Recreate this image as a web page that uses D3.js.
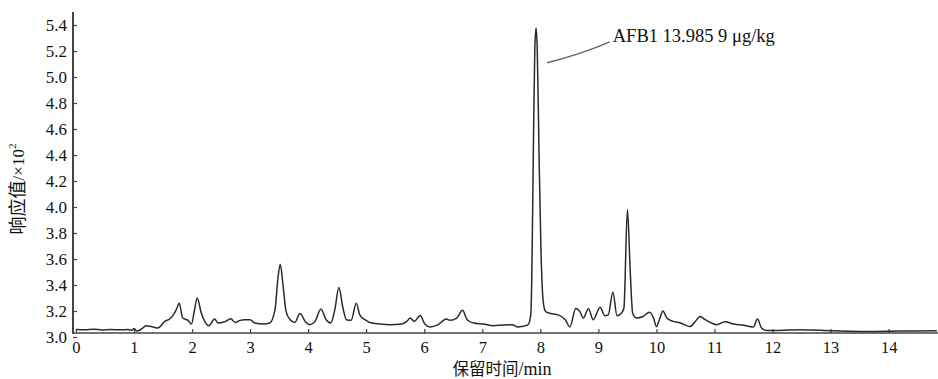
<!DOCTYPE html>
<html>
<head>
<meta charset="utf-8">
<script src="https://cdn.jsdelivr.net/npm/d3@7"></script>
<style>
  body { margin: 0; background: #fff; }
  .tick text { font-family: "Liberation Serif", "Times New Roman", serif; fill: #111; }
</style>
</head>
<body>
<div id="chart"></div>
<script>
var svgWidth = 938;
var svgHeight = 379;

// retention time (min) and response (x10^2)
var times = [
    0.00, 0.15, 0.30, 0.45, 0.60, 0.75, 0.90, 0.97, 1.00, 1.05, 1.12, 1.21, 1.33, 1.41, 1.53, 1.62, 1.67, 1.73, 1.78, 1.84,
    1.93, 1.99, 2.04, 2.09, 2.16, 2.22, 2.29, 2.39, 2.45, 2.55, 2.67, 2.74, 2.83, 2.91, 3.00, 3.08, 3.23, 3.34, 3.43, 3.48,
    3.52, 3.57, 3.62, 3.69, 3.77, 3.86, 3.95, 4.03, 4.12, 4.22, 4.31, 4.39, 4.46, 4.53, 4.60, 4.66, 4.74, 4.83, 4.89, 4.98,
    5.06, 5.24, 5.41, 5.61, 5.70, 5.76, 5.83, 5.93, 6.01, 6.10, 6.24, 6.38, 6.44, 6.56, 6.66, 6.74, 6.85, 7.02, 7.19, 7.36,
    7.51, 7.62, 7.68, 7.79, 7.835, 7.852, 7.88, 7.905, 7.926, 7.947, 7.976, 8.01, 8.05, 8.09, 8.14, 8.31, 8.43, 8.51, 8.61, 8.68,
    8.74, 8.83, 8.91, 9.03, 9.11, 9.17, 9.25, 9.32, 9.40, 9.44, 9.50, 9.55, 9.59, 9.66, 9.77, 9.88, 9.95, 10.00, 10.06, 10.11,
    10.18, 10.29, 10.41, 10.58, 10.67, 10.75, 10.84, 10.95, 11.04, 11.18, 11.33, 11.50, 11.67, 11.74, 11.81, 11.90, 12.07, 12.47, 13.05, 13.62,
    14.20, 14.83
];
var response = [
    3.058, 3.055, 3.060, 3.054, 3.058, 3.055, 3.057, 3.052, 3.066, 3.046, 3.058, 3.087, 3.077, 3.069, 3.120, 3.140, 3.164, 3.210, 3.260, 3.146,
    3.128, 3.100, 3.200, 3.300, 3.185, 3.120, 3.087, 3.138, 3.108, 3.115, 3.140, 3.112, 3.128, 3.133, 3.133, 3.108, 3.100, 3.108, 3.210, 3.450,
    3.560, 3.390, 3.197, 3.133, 3.112, 3.180, 3.120, 3.095, 3.120, 3.215, 3.133, 3.108, 3.210, 3.380, 3.223, 3.133, 3.128, 3.260, 3.170, 3.133,
    3.112, 3.100, 3.095, 3.100, 3.120, 3.146, 3.120, 3.166, 3.100, 3.077, 3.095, 3.138, 3.128, 3.146, 3.205, 3.133, 3.108, 3.100, 3.087, 3.092,
    3.095, 3.077, 3.080, 3.095, 3.170, 3.430, 4.450, 5.220, 5.377, 5.220, 4.450, 3.685, 3.270, 3.197, 3.185, 3.170, 3.133, 3.077, 3.220, 3.197,
    3.146, 3.218, 3.133, 3.228, 3.164, 3.170, 3.346, 3.164, 3.185, 3.223, 3.980, 3.490, 3.185, 3.146, 3.158, 3.190, 3.146, 3.080, 3.146, 3.200,
    3.146, 3.120, 3.108, 3.080, 3.120, 3.158, 3.133, 3.108, 3.095, 3.118, 3.100, 3.090, 3.077, 3.138, 3.069, 3.050, 3.050, 3.056, 3.048, 3.043,
    3.046, 3.048
];

var xTickValues = [0, 1, 2, 3, 4, 5, 6, 7, 8, 9, 10, 11, 12, 13, 14];
var yTickValues = [3.0, 3.2, 3.4, 3.6, 3.8, 4.0, 4.2, 4.4, 4.6, 4.8, 5.0, 5.2, 5.4];
var peakLabel = "AFB1 13.985 9 μg/kg";

var serif = '"Liberation Serif", "Times New Roman", serif';
var cjk = '"Noto Sans CJK SC", sans-serif';

var svg = d3.select("#chart")
    .append("svg")
    .attr("width", svgWidth)
    .attr("height", svgHeight);

var xScale = d3.scaleLinear()
    .domain([-0.05, 14.85])
    .range([73, 938]);

var yScale = d3.scaleLinear()
    .domain([3.0, 5.5])
    .range([337, 12]);

// x axis sits a little above the 3.0 gridline in the original
var axisY = yScale(3.0) - 4;

// axes
var bottomAxis = d3.axisBottom(xScale)
    .tickValues(xTickValues)
    .tickFormat(d3.format("d"))
    .tickSizeInner(-4)
    .tickSizeOuter(0)
    .tickPadding(8);

var leftAxis = d3.axisLeft(yScale)
    .tickValues(yTickValues)
    .tickFormat(d3.format(".1f"))
    .tickSizeInner(-4)
    .tickSizeOuter(0)
    .tickPadding(6);

var xg = svg.append("g")
    .attr("transform", `translate(0, ${axisY})`)
    .call(bottomAxis);
xg.selectAll(".tick text").attr("font-size", 16.5);

var yg = svg.append("g")
    .attr("transform", `translate(${xScale.range()[0]}, 0)`)
    .call(leftAxis);
yg.selectAll(".tick text").attr("font-size", 17);

yg.select(".domain").remove();
xg.select(".domain").remove();

svg.append("line")
    .attr("x1", xScale.range()[0]).attr("x2", xScale.range()[0])
    .attr("y1", yScale(5.5)).attr("y2", axisY + 1)
    .attr("stroke", "#444").attr("stroke-width", 2);
svg.append("line")
    .attr("x1", xScale.range()[0]).attr("x2", xScale.range()[1])
    .attr("y1", axisY).attr("y2", axisY)
    .attr("stroke", "#444").attr("stroke-width", 1.6);

svg.selectAll(".tick line").attr("stroke", "#444").attr("stroke-width", 1.2);

// chromatogram trace
var points = times.map((t, i) => ({ t: t, v: response[i] }));

var line = d3.line()
    .x(d => xScale(d.t))
    .y(d => yScale(d.v))
    .curve(d3.curveMonotoneX);

svg.append("path")
    .datum(points)
    .attr("fill", "none")
    .attr("stroke", "#2a2a2a")
    .attr("stroke-width", 1.5)
    .attr("stroke-linejoin", "round")
    .attr("d", line);

// peak annotation
var peak = points.reduce((a, b) => (b.v > a.v ? b : a));
var lx0 = xScale(peak.t + 0.19), ly0 = yScale(5.11);
var lx1 = xScale(peak.t + 1.27), ly1 = yScale(5.27);
svg.append("path")
    .attr("d", `M${lx0},${ly0} Q${(lx0 + lx1) / 2 + 3},${(ly0 + ly1) / 2 + 2} ${lx1},${ly1}`)
    .attr("fill", "none")
    .attr("stroke", "#666")
    .attr("stroke-width", 1.5);

svg.append("text")
    .attr("x", lx1 + 3)
    .attr("y", ly1)
    .attr("font-family", serif)
    .attr("font-size", 18.5)
    .attr("fill", "#111")
    .text(peakLabel);

// axis titles
var xTitle = svg.append("text")
    .attr("x", 502)
    .attr("y", 374.5)
    .attr("text-anchor", "middle")
    .attr("fill", "#111");
xTitle.append("tspan").attr("font-family", cjk).attr("font-size", 16.5).text("保留时间");
xTitle.append("tspan").attr("font-family", serif).attr("font-size", 18).text("/min");

var yTitle = svg.append("text")
    .attr("transform", "translate(24, 189) rotate(-90)")
    .attr("text-anchor", "middle")
    .attr("fill", "#111");
yTitle.append("tspan").attr("font-family", cjk).attr("font-size", 18).text("响应值");
yTitle.append("tspan").attr("font-family", serif).attr("font-size", 17).text("/×10");
yTitle.append("tspan").attr("font-family", serif).attr("font-size", 11).attr("dy", "-0.7em").text("2");
</script>
</body>
</html>
